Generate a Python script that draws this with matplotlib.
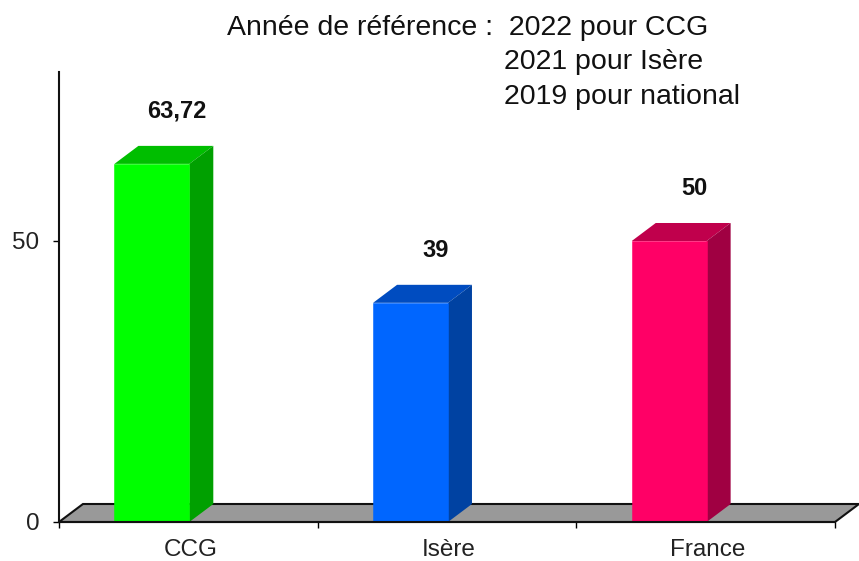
"""
3D-look bar chart: CCG / Isère / France
"""
import matplotlib
matplotlib.use('Agg')
import matplotlib.pyplot as plt
from matplotlib.patches import Polygon

categories = ['CCG', 'Isère', 'France']
values = [63.72, 39, 50]
value_labels = ['63,72', '39', '50']
front_colors = ['#00FF00', '#0066FF', '#FF0066']
top_colors = ['#00BE00', '#004CC0', '#C0004C']
side_colors = ['#00A000', '#0042A2', '#A00042']

plt.rcParams['font.family'] = ['Liberation Sans', 'DejaVu Sans']

W, H = 859, 561
fig = plt.figure(figsize=(W / 100, H / 100), dpi=100, facecolor='white')
ax = fig.add_axes([59 / W, 1 - 522 / H, 776 / W, 450 / H])
ax.set_xlim(-0.5, 2.5)
ax.set_ylim(0, 80.07)

BAR_W = 75 / 259
BAR_SHIFT = -36.5 / 259  # bars sit left of their category label
LABEL_SHIFT = 2 / 259
DX = 24 / 259   # depth of the 3D effect, x units
DY = 18 / 5.62  # depth of the 3D effect, y units

# Floor
ax.add_patch(Polygon([(-0.5, 0), (-0.5 + DX, DY), (2.5 + DX, DY), (2.5, 0)],
                     facecolor='#999999', edgecolor='#111111', linewidth=1.5,
                     clip_on=False, zorder=1))

# Bars
for i, (val, label) in enumerate(zip(values, value_labels)):
    xc = i + BAR_SHIFT
    x0 = xc - BAR_W / 2
    x1 = xc + BAR_W / 2
    ax.add_patch(Polygon([(x0, val), (x1, val), (x1 + DX, val + DY), (x0 + DX, val + DY)],
                         facecolor=top_colors[i], edgecolor='none', zorder=3))
    ax.add_patch(Polygon([(x1, 0), (x1 + DX, DY), (x1 + DX, val + DY), (x1, val)],
                         facecolor=side_colors[i], edgecolor='none', zorder=3))
    # thin edge closes the antialiasing seam against the side face
    ax.add_patch(Polygon([(x0, 0), (x1, 0), (x1, val), (x0, val)],
                         facecolor=front_colors[i], edgecolor=front_colors[i],
                         linewidth=0.4, zorder=4))
    ax.annotate(label, xy=(xc, val + DY), xytext=(18, 25), textcoords='offset points',
                ha='center', va='center', fontsize=17, fontweight='bold', color='#111111')

# Axes
for side in ['top', 'right']:
    ax.spines[side].set_visible(False)
for side in ['left', 'bottom']:
    ax.spines[side].set_linewidth(1.5)
    ax.spines[side].set_color('#111111')
    ax.spines[side].set_zorder(5)

ax.set_yticks([0, 50])
ax.set_xticks([-0.5, 0.5, 1.5, 2.5])
ax.set_xticklabels([])
ax.set_xticks([i + LABEL_SHIFT for i in range(len(categories))], minor=True)
ax.set_xticklabels(categories, minor=True)
ax.tick_params(axis='y', length=4.5, width=1, pad=9.5, labelsize=17.5, labelcolor='#222222')
ax.tick_params(axis='x', which='major', length=4.5, width=1)
ax.tick_params(axis='x', which='minor', length=0, pad=12, labelsize=17.5, labelcolor='#222222')

# Reference years note
fig.text(227 / W, 1 - 28 / H, 'Année de référence :  2022 pour CCG', fontsize=20.5,
         va='center', ha='left', color='#111111')
fig.text(504 / W, 1 - 62 / H, '2021 pour Isère', fontsize=20.5,
         va='center', ha='left', color='#111111')
fig.text(504 / W, 1 - 97 / H, '2019 pour national', fontsize=20.5,
         va='center', ha='left', color='#111111')

fig.savefig('out.png', dpi=100, facecolor='white')
